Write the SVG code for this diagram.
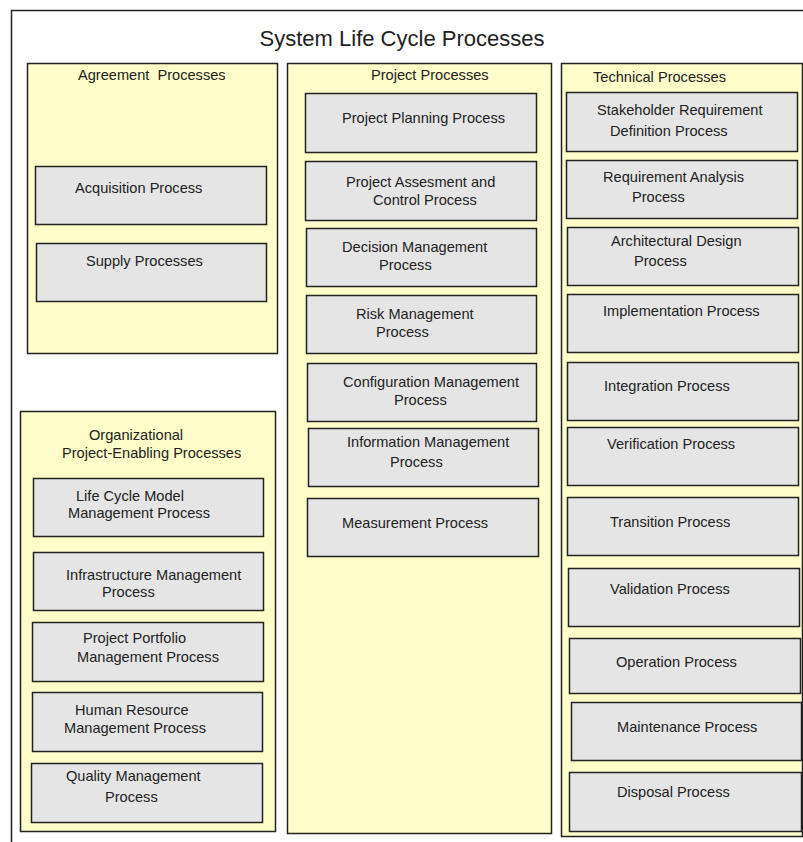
<svg xmlns="http://www.w3.org/2000/svg" width="803" height="842" viewBox="0 0 803 842">
<style>
.frame{fill:#ffffff;stroke:#222;stroke-width:1.5}
.col{fill:#fffdc9;stroke:#222;stroke-width:1.5}
.box{fill:#e5e5e5;stroke:#222;stroke-width:1.5}
text{font-family:"Liberation Sans","DejaVu Sans",sans-serif;font-size:14.6px;fill:#222}
.title{font-size:22px;text-anchor:middle}
</style>
<rect width="803" height="842" fill="#ffffff"/>
<g id="frame">
<rect class="frame" x="11.5" y="10.5" width="800" height="840"/>
<text class="title" x="402" y="46">System Life Cycle Processes</text>
</g>
<g id="agreement">
<rect class="col" x="27.5" y="63.5" width="250" height="290"/>
<text x="78" y="80" xml:space="preserve">Agreement  Processes</text>
</g>
<g id="acquisition">
<rect class="box" x="35.5" y="166.5" width="231" height="58"/>
<text x="75" y="193">Acquisition Process</text>
</g>
<g id="supply">
<rect class="box" x="36.5" y="243.5" width="230" height="58"/>
<text x="86" y="266">Supply Processes</text>
</g>
<g id="organizational">
<rect class="col" x="20.5" y="411.5" width="255" height="420"/>
<text x="89" y="440">Organizational</text>
<text x="62" y="458">Project-Enabling Processes</text>
</g>
<g id="lifecycle">
<rect class="box" x="33.5" y="478.5" width="230" height="58"/>
<text x="76" y="501">Life Cycle Model</text>
<text x="68" y="518">Management Process</text>
</g>
<g id="infrastructure">
<rect class="box" x="33.5" y="552.5" width="230" height="58"/>
<text x="66" y="580">Infrastructure Management</text>
<text x="102" y="597">Process</text>
</g>
<g id="portfolio">
<rect class="box" x="32.5" y="622.5" width="231" height="59"/>
<text x="83" y="643">Project Portfolio</text>
<text x="77" y="662">Management Process</text>
</g>
<g id="humanresource">
<rect class="box" x="32.5" y="692.5" width="230" height="59"/>
<text x="75" y="715">Human Resource</text>
<text x="64" y="733">Management Process</text>
</g>
<g id="quality">
<rect class="box" x="31.5" y="763.5" width="231" height="59"/>
<text x="66" y="781">Quality Management</text>
<text x="105" y="802">Process</text>
</g>
<g id="project">
<rect class="col" x="287.5" y="63.5" width="264" height="770"/>
<text x="371" y="80">Project Processes</text>
</g>
<g id="planning">
<rect class="box" x="305.5" y="93.5" width="231" height="59"/>
<text x="342" y="123">Project Planning Process</text>
</g>
<g id="assessment">
<rect class="box" x="305.5" y="161.5" width="231" height="59"/>
<text x="346" y="187">Project Assesment and</text>
<text x="373" y="205">Control Process</text>
</g>
<g id="decision">
<rect class="box" x="306.5" y="228.5" width="230" height="58"/>
<text x="342" y="252">Decision Management</text>
<text x="379" y="270">Process</text>
</g>
<g id="risk">
<rect class="box" x="306.5" y="295.5" width="230" height="58"/>
<text x="356" y="319">Risk Management</text>
<text x="376" y="337">Process</text>
</g>
<g id="configuration">
<rect class="box" x="307.5" y="363.5" width="229" height="58"/>
<text x="343" y="387">Configuration Management</text>
<text x="394" y="405">Process</text>
</g>
<g id="information">
<rect class="box" x="308.5" y="428.5" width="230" height="58"/>
<text x="347" y="447">Information Management</text>
<text x="390" y="467">Process</text>
</g>
<g id="measurement">
<rect class="box" x="307.5" y="498.5" width="231" height="58"/>
<text x="342" y="528">Measurement Process</text>
</g>
<g id="technical">
<rect class="col" x="561.5" y="63.5" width="241" height="773"/>
<text x="593" y="82">Technical Processes</text>
</g>
<g id="stakeholder">
<rect class="box" x="566.5" y="92.5" width="231" height="59"/>
<text x="597" y="115">Stakeholder Requirement</text>
<text x="610" y="136">Definition Process</text>
</g>
<g id="reqanalysis">
<rect class="box" x="566.5" y="160.5" width="231" height="58"/>
<text x="603" y="182">Requirement Analysis</text>
<text x="632" y="202">Process</text>
</g>
<g id="architectural">
<rect class="box" x="567.5" y="227.5" width="231" height="58"/>
<text x="611" y="246">Architectural Design</text>
<text x="634" y="266">Process</text>
</g>
<g id="implementation">
<rect class="box" x="567.5" y="294.5" width="231" height="58"/>
<text x="603" y="316">Implementation Process</text>
</g>
<g id="integration">
<rect class="box" x="567.5" y="362.5" width="231" height="58"/>
<text x="604" y="391">Integration Process</text>
</g>
<g id="verification">
<rect class="box" x="567.5" y="427.5" width="231" height="58"/>
<text x="607" y="449">Verification Process</text>
</g>
<g id="transition">
<rect class="box" x="567.5" y="497.5" width="231" height="58"/>
<text x="610" y="527">Transition Process</text>
</g>
<g id="validation">
<rect class="box" x="568.5" y="568.5" width="231" height="58"/>
<text x="610" y="594">Validation Process</text>
</g>
<g id="operation">
<rect class="box" x="569.5" y="638.5" width="231" height="55"/>
<text x="616" y="667">Operation Process</text>
</g>
<g id="maintenance">
<rect class="box" x="571.5" y="702.5" width="230" height="58"/>
<text x="617" y="732">Maintenance Process</text>
</g>
<g id="disposal">
<rect class="box" x="569.5" y="772.5" width="232" height="59"/>
<text x="617" y="797">Disposal Process</text>
</g>
<g id="connectors"></g>
</svg>
